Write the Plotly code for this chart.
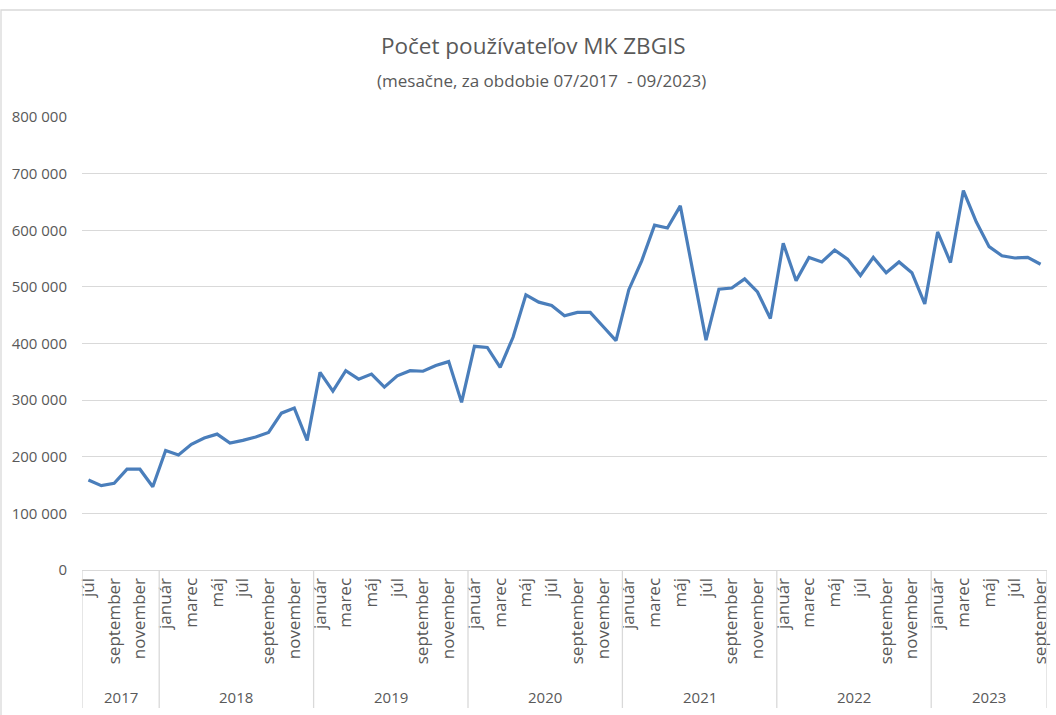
import plotly.graph_objects as go

# ---- data ----
month_names = ["január", "február", "marec", "apríl", "máj", "jún",
               "júl", "august", "september", "október", "november", "december"]
years = [2017, 2018, 2019, 2020, 2021, 2022, 2023]
start_month = 7   # júl 2017
end_month = 9     # september 2023

users = [
    159000, 149000, 153000, 178000, 178000, 147000,                      # 2017 júl-dec
    211000, 203000, 222000, 233000, 240000, 224000,
    229000, 235000, 243000, 277000, 286000, 229000,                      # 2018
    349000, 316000, 352000, 337000, 346000, 323000,
    343000, 352000, 351000, 361000, 368000, 296000,                      # 2019
    395000, 393000, 358000, 411000, 486000, 473000,
    467000, 449000, 455000, 455000, 430000, 405000,                      # 2020
    495000, 546000, 609000, 604000, 643000, 525000,
    406000, 496000, 498000, 514000, 491000, 444000,                      # 2021
    577000, 511000, 552000, 544000, 565000, 549000,
    520000, 552000, 525000, 544000, 525000, 470000,                      # 2022
    597000, 543000, 670000, 615000, 571000, 555000,
    551000, 552000, 540000,                                              # 2023 jan-sep
]

title_text = "Počet používateľov MK ZBGIS"
subtitle_text = "(mesačne, za obdobie 07/2017  - 09/2023)"

# ---- build category labels ----
cat_month = []
cat_year = []
for y in years:
    m0 = start_month if y == years[0] else 1
    m1 = end_month if y == years[-1] else 12
    for m in range(m0, m1 + 1):
        cat_month.append(month_names[m - 1])
        cat_year.append(y)

idx = list(range(len(users)))
tickvals = idx[::2]
ticktext = [cat_month[i] for i in tickvals]

grey = "#595959"
grid = "#d9d9d9"
font_family = "Open Sans, Noto Sans, sans-serif"

fig = go.Figure()
fig.add_trace(go.Scatter(
    x=idx, y=users, mode="lines",
    line=dict(color="#4a7ebb", width=3.2),
    hoverinfo="skip", showlegend=False,
))

plot_h = 453.0
sep_depth = 138.0 / plot_h

shapes = []
annotations = []
# year separators and labels
bounds = []
pos = 0
for y in years:
    n = cat_year.count(y)
    bounds.append((pos - 0.5, pos + n - 0.5))
    pos += n
edges = sorted(set([b[0] for b in bounds] + [b[1] for b in bounds]))
for e in edges:
    shapes.append(dict(type="line", xref="x", yref="paper",
                       x0=e, x1=e, y0=0, y1=-sep_depth,
                       line=dict(color=grid, width=1.3)))
for (a, b), y in zip(bounds, years):
    annotations.append(dict(text=str(y), xref="x", yref="paper",
                            x=(a + b) / 2, y=0, yshift=-127,
                            showarrow=False, yanchor="middle",
                            font=dict(size=15, color=grey, family=font_family)))

# chart border (Excel chart area)
shapes.append(dict(type="rect", xref="paper", yref="paper",
                   x0=(1 - 82) / 965.0, x1=(1062 - 82) / 965.0,
                   y0=-(730 - 570) / plot_h, y1=(570 - 10) / plot_h,
                   line=dict(color=grid, width=1.3), layer="below"))

annotations.append(dict(text=title_text, xref="paper", yref="paper",
                        x=(533 - 82) / 965.0, y=(570 - 45) / plot_h,
                        showarrow=False, xanchor="center", yanchor="middle",
                        font=dict(size=22.5, color=grey, family=font_family)))
annotations.append(dict(text=subtitle_text, xref="paper", yref="paper",
                        x=(541 - 82) / 965.0, y=(570 - 80) / plot_h,
                        showarrow=False, xanchor="center", yanchor="middle",
                        font=dict(size=17, color=grey, family=font_family)))

fig.update_layout(
    width=1056, height=715,
    margin=dict(l=82, r=9, t=117, b=145),
    paper_bgcolor="white", plot_bgcolor="white",
    separators=", ",
    font=dict(family=font_family, color=grey, size=14),
    shapes=shapes, annotations=annotations,
    xaxis=dict(range=[-0.5, len(users) - 0.5], tickmode="array",
               tickvals=tickvals, ticktext=ticktext, tickangle=-90,
               showgrid=False, zeroline=False, showline=True,
               linecolor=grid, linewidth=1.3, ticks="", automargin=False,
               tickfont=dict(size=17, color=grey, family=font_family)),
    yaxis=dict(range=[0, 800000], dtick=100000, tickformat=",d",
               showgrid=True, gridcolor=grid, gridwidth=1.3,
               zeroline=False, showline=False, ticks="", automargin=False,
               ticklabelstandoff=14,
               tickfont=dict(size=15, color=grey, family=font_family)),
)

fig.write_html("out.html",
               config={"displayModeBar": False},
               post_script="document.body.style.margin='0';"
                           "document.body.style.overflow='hidden';")
